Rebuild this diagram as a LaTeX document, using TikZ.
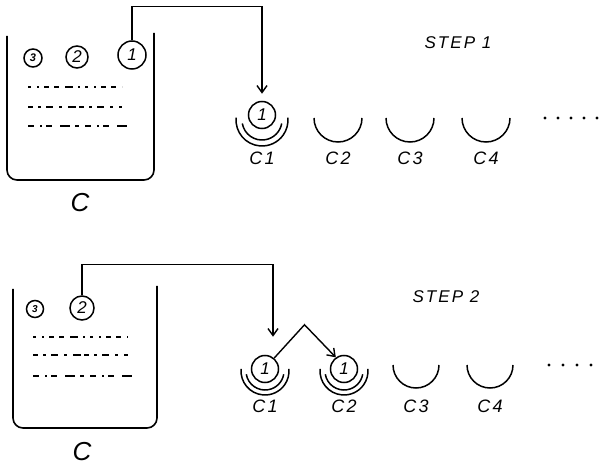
\documentclass[tikz,border=0pt]{standalone}
\usepackage{fontspec}
\setmainfont{Liberation Sans}
\newfontfamily\handfont[LetterSpace=12]{Liberation Sans}
\usepackage{tikz}
\usetikzlibrary{arrows.meta, positioning, calc}
\tikzstyle{ball} = [draw, circle, line width=1.5pt, inner sep=0pt,
	font=\handfont\itshape\fontsize{17}{17}\selectfont]
\tikzstyle{tank} = [draw, line width=1.6pt, rounded corners=10pt]
\tikzstyle{liquid} = [draw, line width=1.3pt]
\tikzstyle{cup} = [draw, line width=1.5pt]
\tikzstyle{tag} = [font=\handfont\itshape\fontsize{18}{18}\selectfont]
\tikzstyle{bigtag} = [inner sep=0pt, font=\handfont\itshape\fontsize{26}{26}\selectfont]
\tikzstyle{steptext} = [font=\handfont\itshape\fontsize{17}{17}\selectfont]
\tikzstyle{line} = [draw, line width=1.4pt,
	-{Straight Barb[length=7pt, width=10pt, line width=1.4pt]}]

\begin{document}
\begin{tikzpicture}[x=1pt, y=-1pt, node distance=1cm, auto]
		\useasboundingbox (0,0) rectangle (603,465);

		% step 1
		\draw[tank] (7,36) -- (7,180) -- (154,180) -- (154,33);
		\node [ball, minimum size=18pt, font=\handfont\itshape\bfseries\fontsize{11}{11}\selectfont] (a3) at (33,58) {3};
		\node [ball, minimum size=22pt] (a2) at (77,57) {2};
		\node [ball, minimum size=28pt] (a1) at (132,55) {1};
		\draw[liquid, dash pattern=on 3pt off 6pt on 2pt off 5pt on 5pt off 5pt on 5pt off 6pt on 8pt off 5pt on 2pt off 5pt] (28,87) -- (122,87);
		\draw[liquid, dash pattern=on 5pt off 5pt on 3pt off 5pt on 7pt off 6pt on 3pt off 6pt on 8pt off 3pt] (28,107) -- (122,107);
		\draw[liquid, dash pattern=on 6pt off 6pt on 2pt off 4pt on 6pt off 8pt on 10pt off 5pt on 4pt off 6pt] (28,126) -- (128,126);
		\node [bigtag] (ca) at (80,203) {C};

		\node [steptext] (s1) at (458,43) {STEP 1};

		\foreach \x/\n in {262/1, 338/2, 410/3, 486/4} {
			\coordinate (p\n) at (\x,118);
			\node [tag] (t\n) at (\x,158) {C\n};
		}
		\foreach \n in {2,3,4}
			\draw[cup] ($(p\n)+(180:24pt)$) arc[start angle=180, end angle=360, radius=24pt];
		\node [ball, minimum size=27pt] (k1) at ($(p1)+(0,-3)$) {1};
		\draw[cup] ($(p1)+(0,2)+(190:20pt)$) arc[start angle=190, end angle=350, radius=20pt];
		\draw[cup] ($(p1)+(0,2)+(175:26pt)$) arc[start angle=175, end angle=365, radius=26pt];
		\foreach \i in {0,...,4}
			\fill (545+13*\i,118) circle (1.7pt);

		\path [line] (a1.north) -- ++(0,-34) -| ([yshift=7pt]k1.north);

		% step 2
		\draw[tank] (13,289) -- (13,428) -- (157,428) -- (157,286);
		\node [ball, minimum size=17pt, font=\handfont\itshape\bfseries\fontsize{10}{10}\selectfont] (b3) at (35,309) {3};
		\node [ball, minimum size=24pt] (b2) at (82,308) {2};
		\draw[liquid, dash pattern=on 3pt off 6pt on 2pt off 5pt on 5pt off 5pt on 5pt off 6pt on 8pt off 5pt on 2pt off 5pt] (33,337) -- (128,337);
		\draw[liquid, dash pattern=on 5pt off 5pt on 3pt off 5pt on 7pt off 6pt on 3pt off 6pt on 8pt off 3pt] (33,355) -- (128,355);
		\draw[liquid, dash pattern=on 6pt off 6pt on 2pt off 4pt on 6pt off 8pt on 10pt off 5pt on 4pt off 6pt] (33,376) -- (132,376);
		\node [bigtag] (cb) at (82,452) {C};

		\node [steptext] (s2) at (446,297) {STEP 2};

		\foreach \x/\n in {265/1, 344/2, 416/3, 490/4} {
			\coordinate (q\n) at (\x,367);
			\node [tag] (u\n) at (\x,406) {C\n};
		}
		\foreach \n in {3,4}
			\draw[cup] ($(q\n)+(0,-2)+(180:23pt)$) arc[start angle=180, end angle=360, radius=23pt];
		\foreach \n in {1,2} {
			\node [ball, minimum size=27pt] (m\n) at ($(q\n)+(0,2)$) {1};
			\draw[cup] ($(q\n)+(0,4)+(190:19pt)$) arc[start angle=190, end angle=350, radius=19pt];
			\draw[cup] ($(q\n)+(0,4)+(175:24pt)$) arc[start angle=175, end angle=365, radius=24pt];
		}
		\foreach \i in {0,...,3}
			\fill (549+14*\i,365) circle (1.7pt);

		\path [line] (b2.north) -- ++(0,-31) -| ([xshift=8pt, yshift=18pt]m1.north);
		\path [line] (m1.50) -- ($(m1.north)!0.5!(m2.north)+(0,-30)$) -- (m2.125);
	\end{tikzpicture}
\end{document}
